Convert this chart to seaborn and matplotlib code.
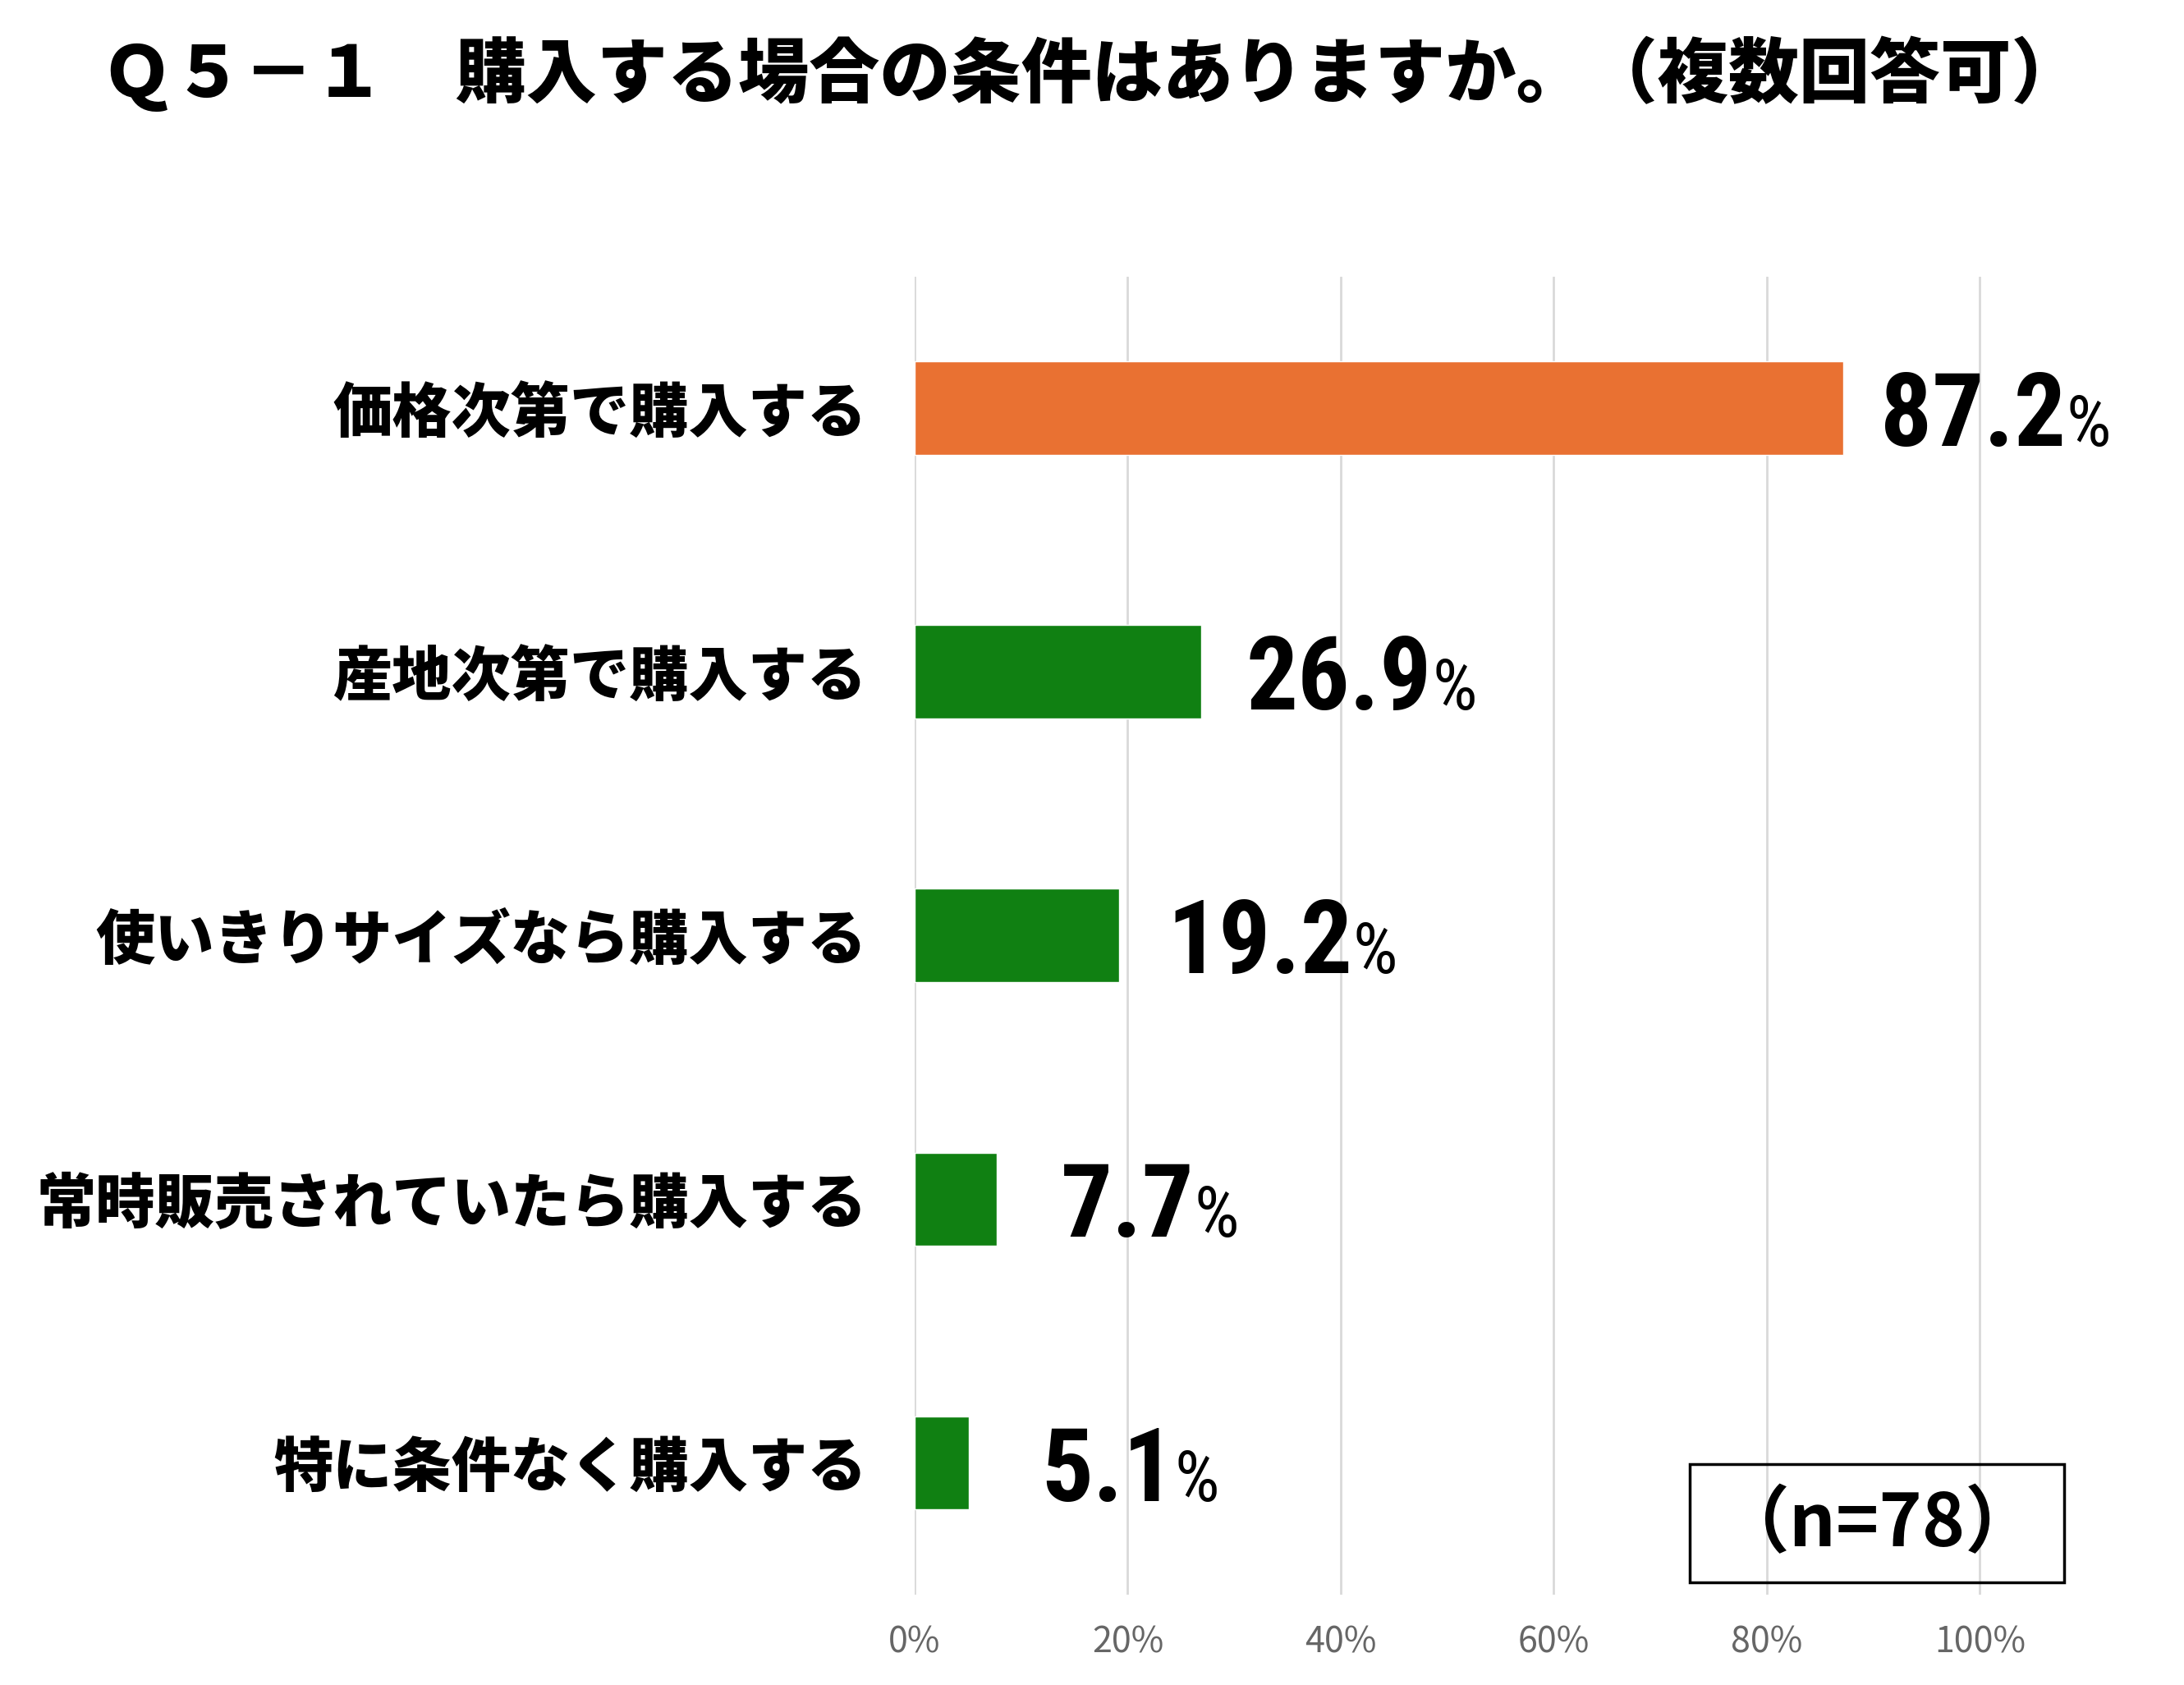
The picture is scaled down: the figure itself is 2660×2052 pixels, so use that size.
import matplotlib
matplotlib.use('Agg')
import matplotlib.pyplot as plt
import seaborn as sns
from matplotlib import font_manager
from matplotlib.patches import Rectangle

# データ
categories = ['価格次第で購入する', '産地次第で購入する', '使いきりサイズなら購入する',
              '常時販売されていたら購入する', '特に条件なく購入する']
values = [87.2, 26.9, 19.2, 7.7, 5.1]
bar_colors = ['#E97132', '#108012', '#108012', '#108012', '#108012']
x_ticks = [0, 20, 40, 60, 80, 100]
x_tick_labels = ['0%', '20%', '40%', '60%', '80%', '100%']
title = 'Ｑ５－１　購入する場合の条件はありますか。（複数回答可）'
n_label = '（n=78）'
# ラベルとバーの間隔（ピクセル）
label_gaps = [45, 55, 58, 78, 88]

sns.set_theme(style='white')
plt.rcParams['font.family'] = ['Noto Sans CJK JP', 'DejaVu Sans']
plt.rcParams['text.color'] = 'black'

# 細い数字用フォントを探す
fonts = font_manager.fontManager.ttflist
names = {f.name for f in fonts}
num_family, num_stretch = ['DejaVu Sans'], 'normal'
for cand in ['Roboto Condensed', 'Liberation Sans Narrow', 'Open Sans Condensed', 'Noto Sans Display']:
    if cand in names:
        num_family = [cand]
        break
else:
    if any(f.name == 'DejaVu Sans' and 'condensed' in str(f.stretch) for f in fonts):
        num_stretch = 'condensed'
    elif any(f.name == 'Noto Sans' and 'condensed' in str(f.stretch) for f in fonts):
        num_family, num_stretch = ['Noto Sans'], 'condensed'

fig = plt.figure(figsize=(26.6, 20.52), dpi=100)
ax = fig.add_axes([0.4188, 0.0536, 0.5365, 0.7822])

sns.barplot(x=values, y=categories, hue=categories, palette=bar_colors,
            legend=False, width=0.355, orient='h', saturation=1, ax=ax)

ax.set_xlim(0, 110)
ax.set_ylim(4.5, -0.5)
ax.set_xticks(x_ticks, x_tick_labels)
ax.grid(axis='x', color='#D9D9D9', linewidth=2)
ax.grid(axis='y', visible=False)
ax.set_axisbelow(True)
for s in ax.spines.values():
    s.set_visible(False)
ax.tick_params(axis='x', length=0, pad=26, labelsize=31, labelcolor='#666666')
ax.tick_params(axis='y', length=0, pad=42, labelsize=52, labelcolor='black')
for lab in ax.get_yticklabels():
    lab.set_fontweight('heavy')
ax.set_xlabel('')
ax.set_ylabel('')

# 値ラベル（数字 + 小さい%）
for i, v in enumerate(values):
    t = ax.annotate(f'{v:.1f}', xy=(v, i), xytext=(label_gaps[i], -46),
                    textcoords='offset pixels', ha='left', va='baseline',
                    fontsize=90, fontweight='bold',
                    family=num_family, fontstretch=num_stretch, color='black')
    ax.annotate('%', xy=(1, i), xycoords=(t, 'data'), xytext=(0, -46),
                textcoords='offset pixels', ha='left', va='baseline', fontsize=62,
                family=num_family, fontstretch=num_stretch, color='black')

# タイトル
fig.text(0.5, 1 - 90 / 2052, title, ha='center', va='center', fontsize=62,
         fontweight='heavy', color='black')

# n数の枠
fig.add_artist(Rectangle((2058 / 2660, 1 - 1927 / 2052), 456 / 2660, 144 / 2052,
                         transform=fig.transFigure, fill=False, edgecolor='black', linewidth=2.5))
fig.text(2286 / 2660, 1 - 1857 / 2052, n_label, ha='center', va='center',
         fontsize=64, fontweight='bold', color='black')

fig.savefig('out.png', dpi=100)
